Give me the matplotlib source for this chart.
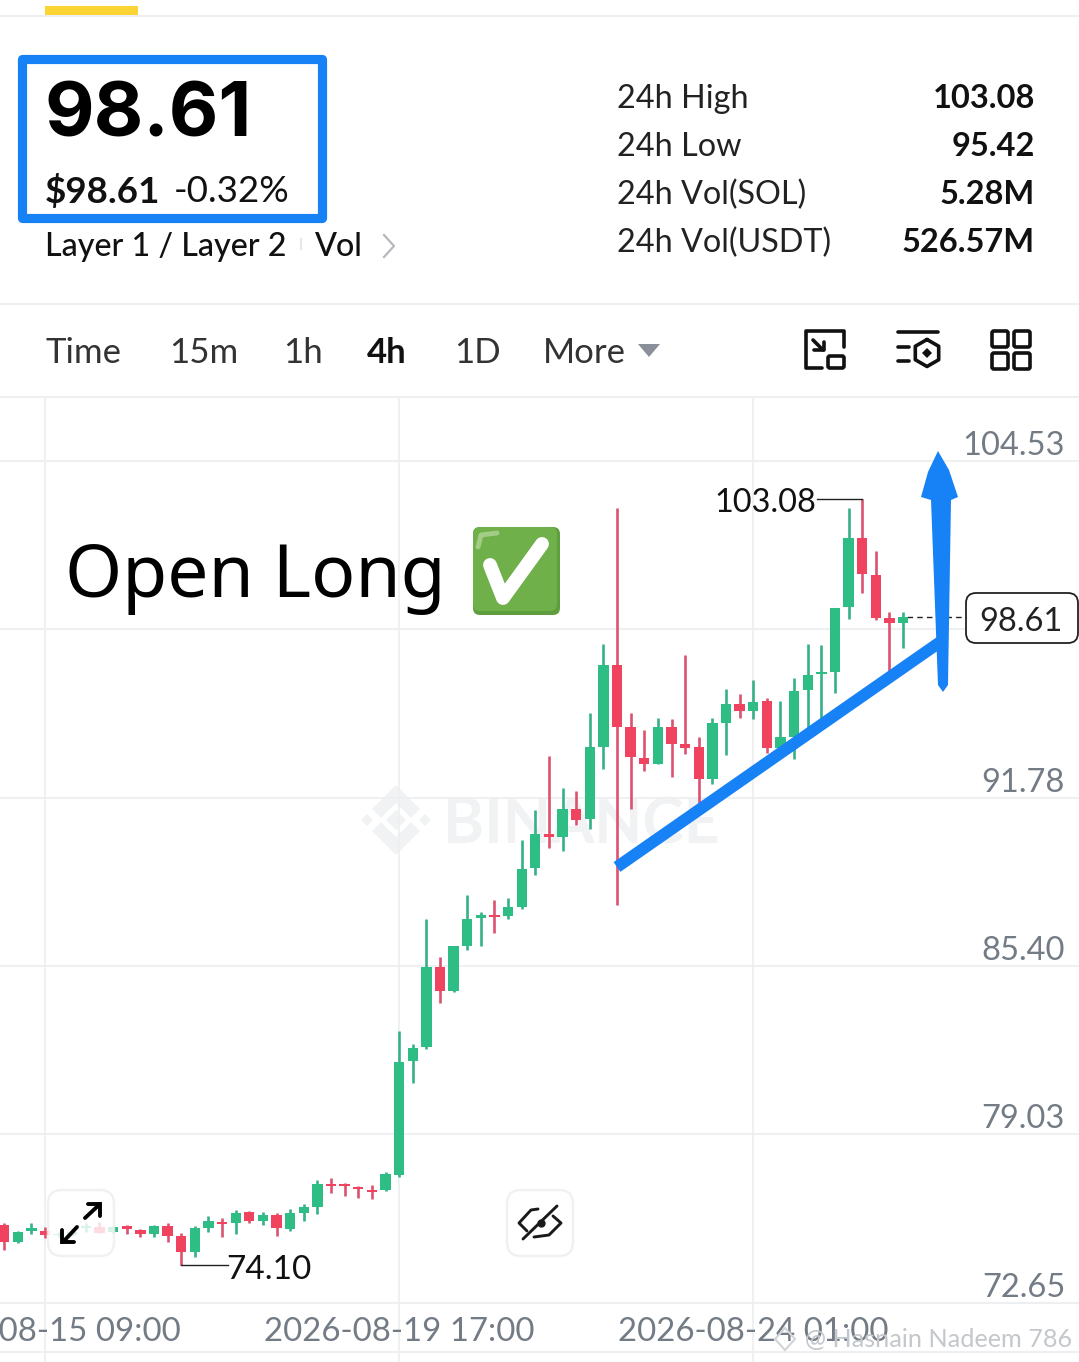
import numpy as np
import matplotlib
matplotlib.use('Agg')
import matplotlib.pyplot as plt
from matplotlib.patches import FancyBboxPatch, Polygon, Rectangle

# 4h candles, first one is three bars left of the 08-15 09:00 gridline
opens = [75.60, 74.97, 75.38, 75.38, 75.22, 75.22, 75.49, 75.53, 75.34, 75.57, 75.41, 75.26, 75.57, 75.19, 74.58, 75.49,
         75.72, 75.68, 76.10, 75.75, 75.98, 75.45, 76.06, 76.28, 77.16, 77.16, 77.04, 76.93, 76.93, 77.50, 81.81, 82.34,
         85.37, 84.46, 86.17, 87.23, 87.34, 87.30, 87.64, 89.12, 90.41, 90.29, 91.35, 90.97, 93.70, 96.80, 94.46, 93.28,
         93.06, 94.46, 93.81, 93.70, 92.49, 94.61, 95.33, 95.06, 95.44, 93.66, 94.08, 95.86, 96.46, 96.54, 99.00, 101.61,
         100.21, 98.58, 98.39]
closes = [74.97, 75.34, 75.49, 75.22, 75.28, 75.34, 75.57, 75.30, 75.53, 75.45, 75.26, 75.57, 75.20, 74.58, 75.49, 75.75,
          75.64, 76.06, 75.75, 75.98, 75.49, 76.06, 76.28, 77.16, 77.08, 77.08, 76.97, 76.85, 77.53, 81.77, 82.30, 85.37,
          84.46, 86.17, 87.19, 87.34, 87.26, 87.64, 89.08, 90.41, 90.29, 91.35, 90.94, 93.70, 96.80, 94.46, 93.32, 93.06,
          94.46, 93.81, 93.66, 92.49, 94.61, 95.33, 95.06, 95.40, 93.66, 94.08, 95.82, 96.43, 96.54, 98.96, 101.61, 100.25,
          98.58, 98.39, 98.61]
highs = [75.68, 75.36, 75.68, 75.53, 75.34, 75.38, 75.68, 75.72, 75.57, 75.60, 75.45, 75.60, 75.68, 75.30, 75.57, 75.94,
         75.87, 76.17, 76.13, 76.10, 76.06, 76.21, 76.40, 77.31, 77.38, 77.19, 77.08, 77.12, 77.61, 82.95, 82.46, 87.19,
         85.75, 86.17, 88.10, 87.45, 87.91, 87.98, 90.18, 91.31, 93.36, 92.15, 92.03, 94.99, 97.60, 102.75, 94.99, 94.34,
         94.80, 94.76, 97.18, 94.08, 94.80, 95.90, 95.71, 96.24, 95.56, 95.44, 96.31, 97.60, 97.56, 98.96, 102.75, 103.08,
         101.12, 98.81, 98.81]
lows = [74.66, 74.92, 75.26, 75.11, 75.15, 75.19, 75.34, 75.30, 75.30, 75.26, 75.15, 75.15, 74.97, 74.10, 74.39, 75.34,
        75.15, 75.26, 75.68, 75.60, 75.19, 75.38, 75.75, 76.02, 76.81, 76.70, 76.63, 76.59, 76.89, 77.42, 80.98, 82.27,
        84.01, 84.42, 86.01, 86.17, 86.66, 87.19, 87.57, 88.85, 89.88, 89.76, 90.75, 90.60, 92.87, 87.72, 91.35, 92.79,
        93.06, 92.56, 93.44, 91.58, 92.30, 93.40, 94.80, 94.76, 93.47, 93.59, 93.25, 94.34, 94.80, 95.74, 98.55, 99.53,
        98.51, 96.50, 97.45]

y_grid = [104.53, 98.16, 91.78, 85.40, 79.03, 72.65]
y_labels = ['104.53', '', '91.78', '85.40', '79.03', '72.65']
date_ticks = [0, 26, 52]
date_labels = ['2026-08-15 09:00', '2026-08-19 17:00', '2026-08-24 01:00']
last_price = 98.61
high_mark = 103.08
low_mark = 74.10

stat_names = ['24h High', '24h Low', '24h Vol(SOL)', '24h Vol(USDT)']
stat_values = ['103.08', '95.42', '5.28M', '526.57M']
tab_names = ['Time', '15m', '1h', '4h', '1D', 'More']
tab_x = [45, 169, 283, 367, 454, 543]

W, H = 1079, 1362
GREEN = '#2EBD85'
RED = '#F0435F'
WICK_GREEN = '#36B088'
WICK_RED = '#DC5270'
BLUE = '#1682F6'
GRID = '#EEEFF0'
GREY = '#737B85'
MARK = '#F1F2F3'
FONT = 'Lato'

fig = plt.figure(figsize=(W / 100, H / 100), dpi=100, facecolor='white')


def px_axes(zorder):
    a = fig.add_axes([0, 0, 1, 1], zorder=zorder)
    a.set_xlim(0, W)
    a.set_ylim(H, 0)
    a.axis('off')
    return a


back = px_axes(0)
top = px_axes(2)

# chart axes lined up with the gridlines of the screenshot
ax = fig.add_axes([0, (H - 1303) / H, 1, (1303 - 397) / H], zorder=1)
ax.patch.set_alpha(0)
ax.set_xlim(-45 / 13.62, (W - 45) / 13.62)
ax.set_ylim(72.65, 72.65 + 906 * 0.03786)
for s in ax.spines.values():
    s.set_visible(False)
ax.set_xticks([])
ax.set_yticks([])

# watermark
back.text(581, 826, 'BINANCE', ha='center', va='center', fontsize=45, fontweight='bold', family=FONT, color=MARK)
for cx, r in [(396, 10), (367, 6), (425, 6)]:
    back.add_patch(Polygon([(cx - r, 820), (cx, 820 - r), (cx + r, 820), (cx, 820 + r)], color=MARK, lw=0))
chevron = [(396, 785), (420, 809), (411, 818), (396, 803), (381, 818), (372, 809)]
back.add_patch(Polygon(chevron, color=MARK, lw=0))
back.add_patch(Polygon([(x, 1640 - y) for x, y in chevron], color=MARK, lw=0))

# grid
for v in y_grid:
    ax.axhline(v, color=GRID, lw=1.3, zorder=1)
for t in date_ticks:
    ax.axvline(t, color=GRID, lw=1.3, zorder=1)
    x = 45 + t * 13.62
    back.plot([x, x], [1303, 1362], color=GRID, lw=1.3)

# candles
idx = np.arange(len(opens)) - 3
for i, o, h, l, c in zip(idx, opens, highs, lows, closes):
    up = c >= o
    ax.vlines(i, l, h, color=WICK_GREEN if up else WICK_RED, lw=1.9, zorder=3)
    ax.bar(i, abs(c - o), bottom=min(o, c), width=0.76, color=GREEN if up else RED, lw=0, zorder=4)

# high / low / last markers
ax.plot([60, 60 - 3.3], [high_mark, high_mark], color='#222222', lw=1, zorder=5)
ax.annotate('103.08', (56.6, high_mark), xytext=(0, -4), textcoords='offset pixels', ha='right', va='center',
            fontsize=23.4, family=FONT, color='#111111', zorder=5)
ax.plot([10, 13.4], [low_mark, low_mark], color='#222222', lw=1, zorder=5)
ax.annotate('74.10', (13.3, low_mark), xytext=(0, -5), textcoords='offset pixels', ha='left', va='center',
            fontsize=24, family=FONT, color='#111111', zorder=5)
ax.plot([63.3, 67.6], [last_price, last_price], color='#222222', lw=1, ls=(0, (4, 3)), zorder=2)

# y labels sit just above their gridline
for v, lab in zip(y_grid, y_labels):
    if lab:
        ax.annotate(lab, (1065 / W, v), xycoords=ax.get_yaxis_transform(), xytext=(0, 0), textcoords='offset pixels',
                    ha='right', va='bottom', fontsize=23.5, family=FONT, color=GREY)

# date labels under the chart
for t, lab in zip(date_ticks, date_labels):
    top.text(45 + t * 13.62, 1332, lab, ha='center', va='center', fontsize=23.8, family=FONT, color=GREY, zorder=1)

# header
top.add_patch(Rectangle((45, 6), 93, 9, color='#FCD535', lw=0))
for y in [16, 304, 397, 1303, 1352]:
    back.plot([0, W], [y, y], color=GRID, lw=1.5)
top.add_patch(Rectangle((22, 59), 300, 159, fill=False, ec=BLUE, lw=6.6, joinstyle='round'))
top.text(44, 117, '98.61', fontsize=55, fontweight='bold', family='Inter', color='black', va='center')
top.text(45, 191, '$98.61', fontsize=26.5, fontweight='bold', family=FONT, color='#111111', va='center')
top.text(174, 191, '-0.32%', fontsize=26.5, family=FONT, color='#111111', va='center')
top.text(45, 247, 'Layer 1 / Layer 2', fontsize=23.2, fontweight='medium', family=FONT, color='#111111', va='center')
top.text(315, 247, 'Vol', fontsize=23.2, fontweight='medium', family=FONT, color='#111111', va='center')
top.plot([301, 301], [239, 249], color='#E6E8EA', lw=1.5)
top.plot([384, 394, 384], [235, 246, 257], color='#B5B9BE', lw=1.6)

for k, (name, val) in enumerate(zip(stat_names, stat_values)):
    y = 99 + 48 * k
    top.text(617, y, name, fontsize=23.3, family=FONT, color='#222222', va='center')
    top.text(1035, y, val, fontsize=23.5, fontweight='bold', family=FONT, color='#111111', va='center', ha='right')

for name, x in zip(tab_names, tab_x):
    top.text(x, 353, name, fontsize=25, family=FONT, color='#111111' if name == '4h' else '#333333', va='center',
             fontweight='bold' if name == '4h' else 'normal')
top.add_patch(Polygon([(638, 344), (660, 344), (649, 357)], color='#8A9099', lw=0))

# toolbar icons
ICON = dict(color='#111111', lw=2.6, solid_capstyle='round', solid_joinstyle='round')
top.plot([822, 806, 806, 844, 844], [368, 368, 331, 331, 347], **ICON)
top.add_patch(FancyBboxPatch((828, 356), 16, 12, boxstyle='round,pad=0,rounding_size=2', fill=False, ec='#111111', lw=2.6))
top.plot([813, 823], [340, 350], **ICON)
top.plot([814, 824, 824], [350, 350, 342], **ICON)

top.plot([898, 938], [332, 332], **ICON)
top.plot([898, 909], [347, 347], **ICON)
top.plot([898, 909], [361, 361], **ICON)
ang = np.deg2rad(np.arange(-90, 271, 60))
top.plot(927 + 13.5 * np.cos(ang), 353 + 13.5 * np.sin(ang), **ICON)
top.add_patch(Polygon([(927, 348), (932, 353), (927, 358), (922, 353)], color='#111111', lw=0))

for bx in [992, 1014]:
    for by in [331, 353]:
        top.add_patch(FancyBboxPatch((bx, by), 16, 16, boxstyle='round,pad=0,rounding_size=2', fill=False,
                                     ec='#111111', lw=2.6))

# floating buttons over the candles
for bx in [48, 507]:
    top.add_patch(FancyBboxPatch((bx, 1190), 66, 66, boxstyle='round,pad=0,rounding_size=14', fc='white', ec='#EDEEEF',
                                 alpha=0.82, lw=1.8))
ARROW = dict(color='black', lw=2.8, solid_capstyle='round', solid_joinstyle='miter')
top.plot([85, 100], [1218, 1204], **ARROW)
top.plot([88, 100, 100], [1204, 1204, 1216], **ARROW)
top.plot([77, 63], [1227, 1242], **ARROW)
top.plot([62, 62, 74], [1230, 1242, 1242], **ARROW)

EYE = dict(color='#1A1A1A', lw=2.1, solid_capstyle='round', solid_joinstyle='round')
top.plot([538, 531, 519, 527], [1209, 1210, 1223, 1231], **EYE)
top.plot([553, 561, 549, 534], [1216, 1223, 1235, 1237], **EYE)
top.plot([523, 557], [1239, 1206], **EYE)
top.plot([541], [1223], 'o', color='#1A1A1A', ms=5)

# price tag
top.add_patch(FancyBboxPatch((966, 593), 112, 50, boxstyle='round,pad=0,rounding_size=10', fc='white', ec='#222222', lw=1.3))
top.text(1021, 622, '98.61', ha='center', va='center', fontsize=23.5, family=FONT, color='#222222')

# hand drawn annotations
top.plot([617, 943], [867, 640], color=BLUE, lw=8.5, solid_capstyle='butt')
top.add_patch(Polygon([(938, 451), (949, 470), (958, 497), (951, 500), (948, 685), (943, 692), (938, 685),
                       (931, 500), (921, 497), (928, 472)], color=BLUE, lw=0))

top.text(65, 578, 'Open Long', fontsize=52.7, family='Noto Sans', color='black', va='center')
top.add_patch(FancyBboxPatch((473, 527), 87, 88, boxstyle='round,pad=0,rounding_size=7', fc='#5F9E3F', lw=0))
top.add_patch(FancyBboxPatch((473, 527), 84, 84, boxstyle='round,pad=0,rounding_size=7', fc='#70B04A', lw=0))
top.plot([478, 481, 497], [547, 535, 533], color='#A3CC86', lw=3.5, solid_capstyle='round')
top.plot([490, 503, 542], [565, 598, 544], color='white', lw=10, solid_capstyle='round', solid_joinstyle='round')

# repost credit
top.text(805, 1340, '@ Hasnain Nadeem 786', fontsize=18.2, family=FONT, color='#C4C7CB', va='center')
top.add_patch(Polygon([(785, 1328), (795, 1339), (785, 1350), (775, 1339)], fill=False, ec='#D2D4D7', lw=1.5))

fig.savefig('out.png', dpi=100)
